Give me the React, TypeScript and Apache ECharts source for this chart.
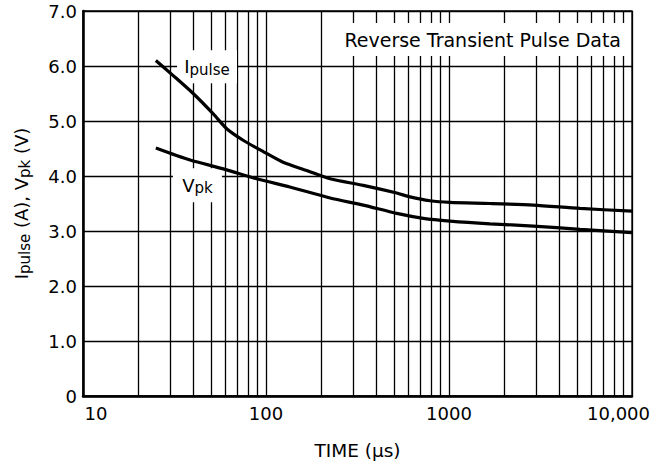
import React, { useEffect, useRef } from "react";
import * as echarts from "echarts";

// ---- data ----
const ipulseTime = [25, 31, 40, 51.5, 61, 75, 97, 124, 167, 224, 340, 518, 612, 787, 1012, 1674, 2890, 5200, 10000];
const ipulseValue = [6.1, 5.83, 5.5, 5.13, 4.86, 4.65, 4.44, 4.25, 4.1, 3.95, 3.83, 3.69, 3.62, 3.55, 3.52, 3.5, 3.47, 3.41, 3.36];
const vpkTime = [25, 38.5, 58.5, 89, 135, 224, 340, 518, 724, 1012, 1674, 2890, 5200, 10000];
const vpkValue = [4.51, 4.29, 4.13, 3.95, 3.8, 3.6, 3.47, 3.32, 3.23, 3.18, 3.13, 3.09, 3.03, 2.97];
const minorGridTimes = [20, 30, 40, 50, 60, 70, 80, 90, 200, 300, 400, 500, 600, 700, 800, 900, 2000, 3000, 4000, 5000, 6000, 7000, 8000, 9000];
const xTickLabels: Record<number, string> = { 10: "10", 100: "100", 1000: "1000", 10000: "10,000" };
const ipulseLabelAt = [47.6, 5.985];
const vpkLabelAt = [42.2, 3.83];
const titleText = "Reverse Transient Pulse Data";

const FONT = "DejaVu Sans";

export default function App() {
  const ref = useRef<HTMLDivElement>(null);
  useEffect(() => {
    if (!ref.current) return;
    const chart = echarts.init(ref.current, null, { renderer: "svg" });
    const mainRich = { fontFamily: FONT, fontSize: 18, lineHeight: 21, color: "#000" };
    const subRich = { fontFamily: FONT, fontSize: 15, lineHeight: 15, padding: [6, 0, 0, 0], color: "#000" };
    const option: any = {
      animation: false,
      backgroundColor: "#fff",
      title: {
        text: titleText,
        right: 35,
        top: 23,
        backgroundColor: "#fff",
        padding: [7, 7],
        textStyle: { fontFamily: FONT, fontSize: 19, fontWeight: "normal", color: "#000" },
        z: 20,
      },
      grid: {
        left: 83,
        right: 31,
        top: 11,
        bottom: 71,
        show: true,
        borderColor: "#000",
        borderWidth: 1.3,
      },
      xAxis: {
        type: "log",
        logBase: 10,
        min: 10,
        max: 10000,
        name: "TIME (µs)",
        nameLocation: "middle",
        nameGap: 45,
        nameTextStyle: { fontFamily: FONT, fontSize: 18.5, color: "#000" },
        axisLine: { show: true, lineStyle: { color: "#000", width: 2.5 } },
        axisTick: { show: false },
        splitLine: { show: true, lineStyle: { color: "#000", width: 1.3 } },
        axisLabel: {
          margin: 8,
          fontFamily: FONT,
          fontSize: 18,
          color: "#000",
          showMinLabel: true,
          showMaxLabel: true,
          hideOverlap: false,
          formatter: (v: number) => {
            const key = Math.round(v);
            const s = xTickLabels[key] ?? String(key);
            if (key === 10) return "{first|" + s + "}";
            if (key === 10000) return "{last|" + s + "}";
            return s;
          },
          rich: {
            first: { fontFamily: FONT, fontSize: 18, color: "#000", padding: [0, 0, 0, 26] },
            last: { fontFamily: FONT, fontSize: 18, color: "#000", padding: [0, 27, 0, 0] },
          },
        },
      },
      yAxis: {
        type: "value",
        min: 0,
        max: 7,
        interval: 1,
        name: "{m|I}{s|pulse}{m| (A), V}{s|pk}{m| (V)}",
        nameLocation: "middle",
        nameGap: 51,
        nameRotate: 90,
        nameTextStyle: { fontFamily: FONT, fontSize: 18, color: "#000", rich: { m: mainRich, s: subRich } },
        axisLine: { show: true, lineStyle: { color: "#000", width: 2.5 } },
        axisTick: { show: false },
        splitLine: { show: true, lineStyle: { color: "#000", width: 1.3 } },
        axisLabel: {
          margin: 6,
          fontFamily: FONT,
          fontSize: 18,
          color: "#000",
          formatter: (v: number) => (v === 0 ? "0" : v.toFixed(1)),
        },
      },
      series: [
        {
          name: "Ipulse",
          type: "line",
          data: ipulseTime.map((t, i) => [t, ipulseValue[i]]),
          smooth: 0.25,
          showSymbol: false,
          symbol: "none",
          lineStyle: { color: "#000", width: 3.2 },
          z: 12,
          markLine: {
            silent: true,
            z: 1,
            symbol: ["none", "none"],
            label: { show: false },
            lineStyle: { color: "#000", width: 1.3, type: "solid" },
            emphasis: { disabled: true },
            data: minorGridTimes.map((t) => ({ xAxis: t })),
          },
          markPoint: {
            silent: true,
            z: 8,
            symbol: "rect",
            symbolSize: [60, 33],
            itemStyle: { color: "#fff" },
            label: {
              show: true,
              position: "inside",
              formatter: "{m|I}{s|pulse}",
              rich: { m: mainRich, s: subRich },
            },
            data: [{ coord: ipulseLabelAt }],
          },
        },
        {
          name: "Vpk",
          type: "line",
          data: vpkTime.map((t, i) => [t, vpkValue[i]]),
          smooth: 0.25,
          showSymbol: false,
          symbol: "none",
          lineStyle: { color: "#000", width: 3.2 },
          z: 12,
          markPoint: {
            silent: true,
            z: 8,
            symbol: "rect",
            symbolSize: [49, 34],
            itemStyle: { color: "#fff" },
            label: {
              show: true,
              position: "inside",
              formatter: "{m|V}{s|pk}",
              rich: { m: mainRich, s: subRich },
            },
            data: [{ coord: vpkLabelAt }],
          },
        },
      ],
    };
    chart.setOption(option);
    return () => chart.dispose();
  }, []);
  return (
    <div
      ref={ref}
      style={{ position: "absolute", left: 0, top: 0, width: 663, height: 467, background: "#fff" }}
    />
  );
}
